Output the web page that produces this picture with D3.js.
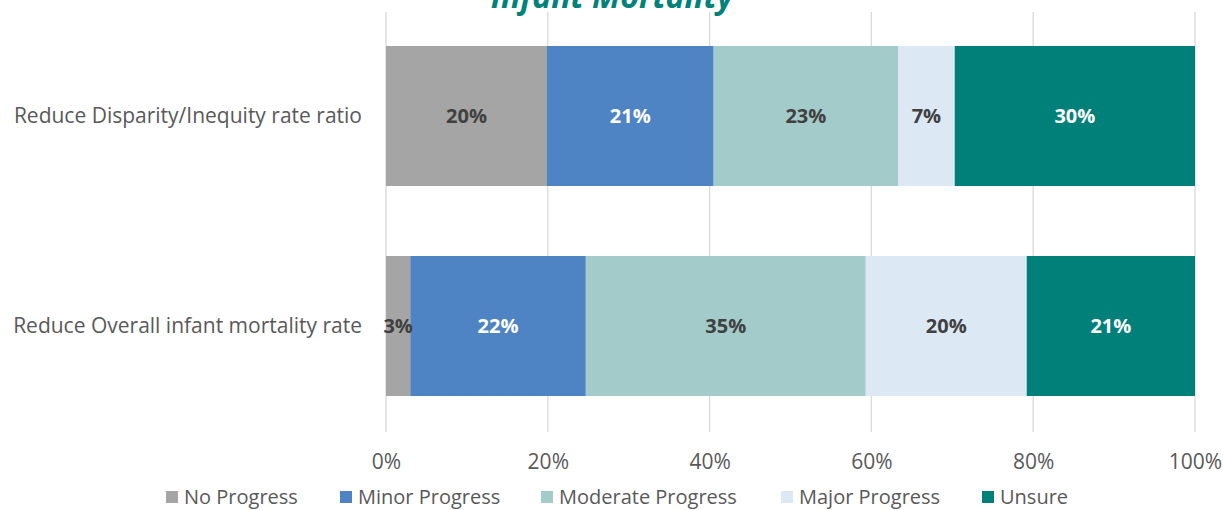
<!DOCTYPE html>
<html><head><meta charset="utf-8">
<script src="https://cdn.jsdelivr.net/npm/d3@7"></script>
<style>body{margin:0;background:#fff}svg{display:block}text{font-family:"Open Sans",sans-serif}</style>
</head><body><svg id="c" width="1223" height="510"></svg>
<script>
const categories = ["Reduce Disparity/Inequity rate ratio", "Reduce Overall infant mortality rate"];
const seriesNames = ["No Progress", "Minor Progress", "Moderate Progress", "Major Progress", "Unsure"];
const noProgress = [19.9, 3.0];
const minorProgress = [20.6, 21.7];
const moderateProgress = [22.8, 34.6];
const majorProgress = [7.0, 19.9];
const unsure = [29.7, 20.8];
const labelNoProgress = ["20%", "3%"];
const labelMinor = ["21%", "22%"];
const labelModerate = ["23%", "35%"];
const labelMajor = ["7%", "20%"];
const labelUnsure = ["30%", "21%"];
const tickValues = [0, 20, 40, 60, 80, 100];
const title = "Infant Mortality";

const colors = ["#a5a5a5", "#4e84c4", "#a2cbc9", "#dde8f5", "#008078"];
const labelColors = ["#404040", "#ffffff", "#404040", "#404040", "#ffffff"];
const seriesVals = [noProgress, minorProgress, moderateProgress, majorProgress, unsure];
const seriesLabels = [labelNoProgress, labelMinor, labelModerate, labelMajor, labelUnsure];

const svg = d3.select("#c");
const x = d3.scaleLinear().domain([0, 100]).range([386, 1195]);
const y = d3.scaleBand().domain(categories).range([11, 431]).paddingInner(1/3).paddingOuter(1/6);

// gridlines
svg.append("g").selectAll("line").data(tickValues).join("line")
  .attr("x1", d => x(d)).attr("x2", d => x(d)).attr("y1", 12).attr("y2", 432)
  .attr("stroke", "#d9d9d9").attr("stroke-width", 1.3);

// title
svg.append("text").attr("x", 612).attr("y", 8).attr("text-anchor", "middle")
  .attr("font-size", 32).attr("font-weight", "bold").attr("font-style", "italic")
  .attr("fill", "#00827a").text(title);

// stacked bars
const rows = categories.map((c, i) => {
  let acc = 0;
  return seriesVals.map((s, k) => { const r = {cat: c, k, x0: acc, x1: acc + s[i], label: seriesLabels[k][i]}; acc += s[i]; return r; });
});
const segs = rows.flat();
svg.append("g").selectAll("rect").data(segs).join("rect")
  .attr("x", d => x(d.x0)).attr("width", d => x(d.x1) - x(d.x0))
  .attr("y", d => y(d.cat)).attr("height", y.bandwidth())
  .attr("fill", d => colors[d.k]);
svg.append("g").selectAll("text").data(segs).join("text")
  .attr("x", d => x((d.x0 + d.x1) / 2)).attr("y", d => y(d.cat) + y.bandwidth() / 2)
  .attr("dy", "0.35em").attr("text-anchor", "middle")
  .attr("font-size", 20).attr("font-weight", "bold")
  .attr("fill", d => labelColors[d.k]).text(d => d.label);

// category axis labels
svg.append("g").selectAll("text").data(categories).join("text")
  .attr("x", 362).attr("y", d => y(d) + y.bandwidth() / 2).attr("dy", "0.35em")
  .attr("text-anchor", "end").attr("font-size", 21).attr("fill", "#595959").text(d => d);

// x axis
const xAxis = svg.append("g").attr("transform", "translate(0,432)")
  .call(d3.axisBottom(x).tickValues(tickValues).tickFormat(d => d + "%").tickSize(0).tickPadding(22));
xAxis.select(".domain").remove();
xAxis.selectAll("text").attr("font-size", 21).attr("fill", "#595959").attr("font-family", "Open Sans");

// legend
const legendX = [166, 340, 541, 781, 982];
const lg = svg.append("g").selectAll("g").data(seriesNames).join("g")
  .attr("transform", (d, i) => `translate(${legendX[i]},497)`);
lg.append("rect").attr("x", 0).attr("y", -6).attr("width", 12).attr("height", 12).attr("fill", (d, i) => colors[i]);
lg.append("text").attr("x", 18).attr("dy", "0.35em").attr("font-size", 20).attr("fill", "#595959").text(d => d);
</script></body></html>
